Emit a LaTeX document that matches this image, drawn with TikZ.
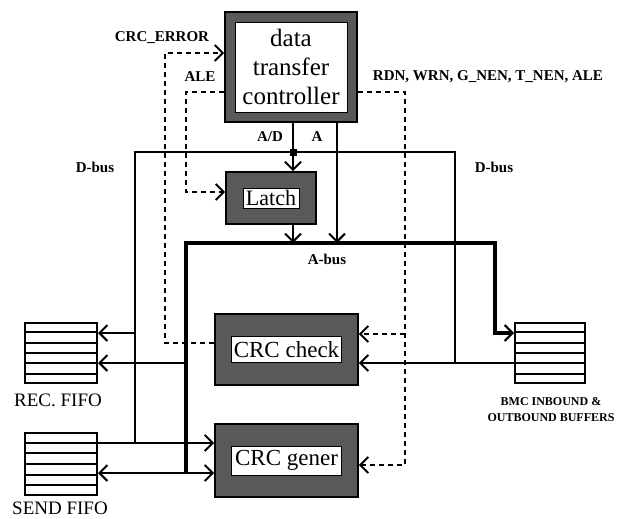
\documentclass[tikz,border=0pt]{standalone}
\usepackage{fontspec}
\setmainfont{Liberation Serif}
\usetikzlibrary{arrows.meta,positioning,calc}

\begin{document}
\begin{tikzpicture}[
    x=1pt, y=-1pt,
    frame/.style={rectangle, draw, line width=1.8pt, fill=black!65, inner sep=0pt},
    inbox/.style={rectangle, draw, line width=0.8pt, fill=white, inner sep=0pt, align=center},
    fifo/.style={rectangle, draw, line width=2pt, minimum width=72pt, minimum height=60pt, inner sep=0pt},
    dbus/.style={line width=2.2pt},
    abus/.style={line width=3.4pt},
    ctl/.style={line width=1.3pt, dash pattern=on 5pt off 4pt},
    tip/.style={-{Straight Barb[length=8pt,width=16pt,line width=2pt]}},
    tips/.style={{Straight Barb[length=8pt,width=16pt,line width=2pt]}-{Straight Barb[length=8pt,width=16pt,line width=2pt]}},
    lbl/.style={font=\bfseries\fontsize{15}{17}\selectfont}
]
    \useasboundingbox (0,0) rectangle (618,519);

    % blocks
    \node[frame, minimum width=132pt, minimum height=110pt] (ctrl) at (291,67) {};
    \node[inbox, minimum width=112pt, minimum height=90pt, font=\fontsize{25}{29}\selectfont] (ctrltxt) at (ctrl.center) {data\\transfer\\controller};
    \node[frame, minimum width=90pt, minimum height=52pt] (latch) at (271,198) {};
    \node[inbox, minimum width=56pt, minimum height=20pt, font=\fontsize{22}{24}\selectfont] (latchtxt) at (latch.center) {Latch};
    \node[frame, minimum width=143pt, minimum height=71pt] (check) at (286.5,349.5) {};
    \node[inbox, minimum width=110pt, minimum height=26pt, font=\fontsize{23}{25}\selectfont] (checktxt) at (check.center) {CRC check};
    \node[frame, minimum width=143pt, minimum height=73pt] (gener) at (286.5,460.5) {};
    \node[inbox, minimum width=110pt, minimum height=29pt, font=\fontsize{23}{25}\selectfont] (genertxt) at (gener.center) {CRC gener};

    % fifos
    \node[fifo] (rec) at (61,353) {};
    \node[fifo, minimum height=62pt] (send) at (61,464) {};
    \node[fifo, minimum width=70pt] (bmc) at (550,353) {};
    \foreach \f in {rec,send,bmc}
        \foreach \k in {1,...,5}
            \draw[line width=2pt] ($(\f.north west)!\k/6!(\f.south west)$) -- ($(\f.north east)!\k/6!(\f.south east)$);
    \node[font=\fontsize{19}{21}\selectfont] (reclbl) at (58,400) {REC. FIFO};
    \node[font=\fontsize{19}{21}\selectfont, anchor=south] (sendlbl) at (60,518) {SEND FIFO};
    \node[font=\bfseries\fontsize{12}{16}\selectfont, align=center] (bmclbl) at (551,410) {BMC INBOUND \&\\OUTBOUND BUFFERS};

    % bus corners and rows
    \coordinate (dbL) at (135,152);
    \coordinate (dbR) at (455,152);
    \coordinate (abL) at (186,243);
    \coordinate (abR) at (495,243);
    \coordinate (adj) at (293,152);
    \coordinate (aln) at (337,152);
    \coordinate (yrecD) at (0,333);
    \coordinate (yrecA) at (0,363);
    \coordinate (ysendD) at (0,443);
    \coordinate (ysendA) at (0,473);

    % D-bus
    \draw[dbus] (dbL |- ysendD) -- (dbL) -- (dbR) -- (dbR |- yrecA);
    \draw[dbus] (ctrl.south -| adj) -- (adj);
    \node[fill, minimum size=7pt, inner sep=0pt] (jn) at (adj) {};
    \draw[dbus, tip] (jn) -- (latch.north -| adj);
    \draw[dbus, tip] (dbL |- yrecD) -- (rec.east |- yrecD);
    \draw[dbus, tip] (send.east |- ysendD) -- (gener.west |- ysendD);
    \draw[dbus, tip] (bmc.west |- yrecA) -- (check.east |- yrecA);

    % A-bus
    \draw[abus, tip] (abL |- ysendA) -- (abL) -- (abR) -- (abR |- yrecD) -- (bmc.west |- yrecD);
    \draw[dbus, tip] (latch.south -| adj) -- (adj |- abL);
    \draw[dbus, tip] (ctrl.south -| aln) -- (aln |- abL);
    \draw[dbus, tip] (abL |- yrecA) -- (rec.east |- yrecA);
    \draw[dbus, tips] (send.east |- ysendA) -- (gener.west |- ysendA);

    % control lines
    \coordinate (xerr) at (165,53);
    \coordinate (xale) at (186,92);
    \coordinate (xrd) at (405,92);
    \coordinate (ychk) at (0,343);
    \coordinate (ychr) at (0,334);
    \coordinate (ygnr) at (0,465);
    \coordinate (ylat) at (0,192);
    \draw[ctl, tip] (check.west |- ychk) -- (xerr |- ychk) -- (xerr) -- (ctrl.west |- xerr);
    \draw[ctl, tip] (ctrl.west |- xale) -- (xale) -- (xale |- ylat) -- (latch.west |- ylat);
    \draw[ctl, tip] (ctrl.east |- xrd) -- (xrd) -- (xrd |- ygnr) -- (gener.east |- ygnr);
    \draw[ctl, tip] (xrd |- ychr) -- (check.east |- ychr);

    % labels
    \node[lbl] (errlbl) at (162,38) {CRC\_ERROR};
    \node[lbl] (alelbl) at (200,77) {ALE};
    \node[lbl] (rdlbl) at (488,77) {RDN, WRN, G\_NEN, T\_NEN, ALE};
    \node[lbl] (adlbl) at (270,137) {A/D};
    \node[lbl] (albl) at (317,137) {A};
    \node[lbl] (dbllbl) at (95,167) {D-bus};
    \node[lbl] (dbrlbl) at (494,167) {D-bus};
    \node[lbl] (ablbl) at (327,259) {A-bus};
\end{tikzpicture}
\end{document}
